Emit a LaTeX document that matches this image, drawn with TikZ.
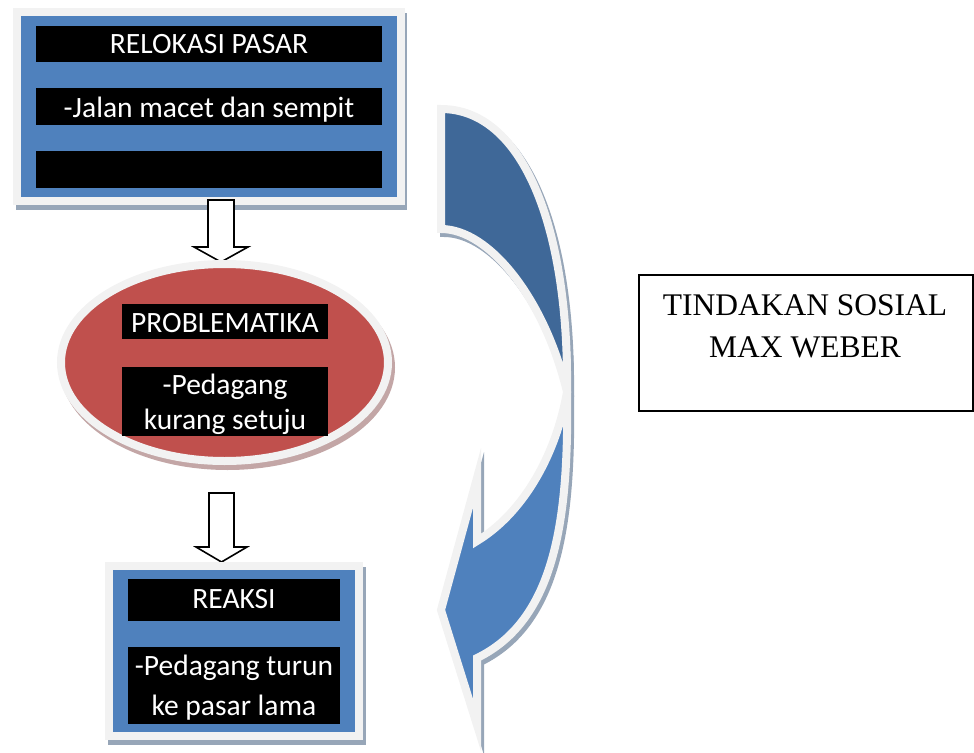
\documentclass[tikz,border=0pt]{standalone}
\usepackage{fontspec}
\setmainfont{Carlito}
\newfontfamily\seriffont{Liberation Serif}
\usetikzlibrary{shapes.geometric}
\definecolor{accblue}{HTML}{4F81BD}
\definecolor{darkblue}{HTML}{3F6898}
\definecolor{accred}{HTML}{C0504D}
\definecolor{lgray}{HTML}{F2F2F2}
\definecolor{shblue}{HTML}{97A6B8}
\definecolor{shred}{HTML}{C3A6A6}
\newcommand\toppiece{(441,-109) .. controls (522,-109) and (569,-225) .. (567,-392)
  .. controls (545,-300) and (490,-229) .. (441,-229) -- cycle}
\newcommand\lowpiece{(567,-392) .. controls (555,-460) and (520,-515) .. (477,-541)
  -- (477,-478) -- (441,-610) -- (477,-725) -- (477,-658)
  .. controls (555,-620) and (569,-520) .. (567,-392) -- cycle}
\begin{document}
\begin{tikzpicture}[x=1pt,y=1pt,
  frame/.style={draw=lgray, line width=8pt, inner sep=0pt, outer sep=0pt},
  bar/.style={fill=black, inner sep=0pt, outer sep=0pt, anchor=north west},
  bartext/.style={text=white, font=\fontsize{29.5pt}{35pt}\selectfont, inner sep=0pt, anchor=base},
  hollow/.style={draw=black, fill=white, line width=1.6pt, line join=miter},
  band/.style={draw=lgray, line width=8pt, line join=miter, miter limit=12},
  weberfont/.style={font=\seriffont\fontsize{31.5pt}{42pt}\selectfont, inner sep=0pt, anchor=base}]
\useasboundingbox (0,0) rectangle (974,-752);

% top box
\fill[shblue] (16,-13) rectangle (407,-210);
\node[frame, fill=accblue, minimum width=384pt, minimum height=189pt, anchor=north west] (box1) at (17,-12) {};
\node[bar, minimum width=346pt, minimum height=36pt] (b11) at (36,-26) {};
\node[bartext] (t11) at (209,-53) {RELOKASI PASAR};
\node[bar, minimum width=346pt, minimum height=37pt] (b12) at (36,-88) {};
\node[bartext] (t12) at (209,-117) {-Jalan macet dan sempit};
\node[bar, minimum width=346pt, minimum height=37pt] (b13) at (36,-151) {};

% arrow 1
\coordinate (a1) at (221,-200);
\draw[hollow, shift={(a1)}] (-13,0) -- (13,0) -- (13,-47) -- (27,-47) -- (0,-62) -- (-27,-47) -- (-13,-47) -- cycle;

% ellipse
\fill[shred] (227.5,-367.5) ellipse [x radius=167.5, y radius=102.5];
\node[ellipse, frame, fill=accred, minimum width=327pt, minimum height=197pt] (ell) at (224.5,-362.5) {};
\node[bar, minimum width=206pt, minimum height=35pt] (b21) at (122,-304) {};
\node[bartext] (t21) at (225,-332) {PROBLEMATIKA};
\node[bar, minimum width=206pt, minimum height=69pt] (b22) at (122,-367) {};
\node[bartext] (t22) at (225,-394) {-Pedagang};
\node[bartext] (t23) at (225,-429) {kurang setuju};

% arrow 2
\coordinate (a2) at (221.5,-493);
\draw[hollow, shift={(a2)}] (-12.5,0) -- (12.5,0) -- (12.5,-54) -- (25.5,-54) -- (0,-69) -- (-25.5,-54) -- (-12.5,-54) -- cycle;

% bottom box
\fill[shblue] (108,-567) rectangle (366,-745);
\node[frame, fill=accblue, minimum width=250pt, minimum height=170pt, anchor=north west] (box3) at (109,-566) {};
\node[bar, minimum width=212pt, minimum height=42pt] (b31) at (128,-579) {};
\node[bartext] (t31) at (234,-608) {REAKSI};
\node[bar, minimum width=212pt, minimum height=77pt] (b32) at (128,-647) {};
\node[bartext] (t32) at (234,-675) {-Pedagang turun};
\node[bartext] (t33) at (234,-715) {ke pasar lama};

% curved arrow
\begin{scope}[shift={(3,-4)}]
  \path[band, draw=shblue, fill=shblue] \toppiece;
  \path[band, draw=shblue, fill=shblue] \lowpiece;
\end{scope}
\path[band, fill=darkblue] \toppiece;
\path[band, fill=accblue] \lowpiece;

% right box
\node[draw=black, line width=2pt, minimum width=334pt, minimum height=136pt, anchor=north west, inner sep=0pt] (weber) at (638,-274) {};
\node[weberfont] (w1) at (805,-315) {TINDAKAN SOSIAL};
\node[weberfont] (w2) at (805,-357) {MAX WEBER};
\end{tikzpicture}
\end{document}
